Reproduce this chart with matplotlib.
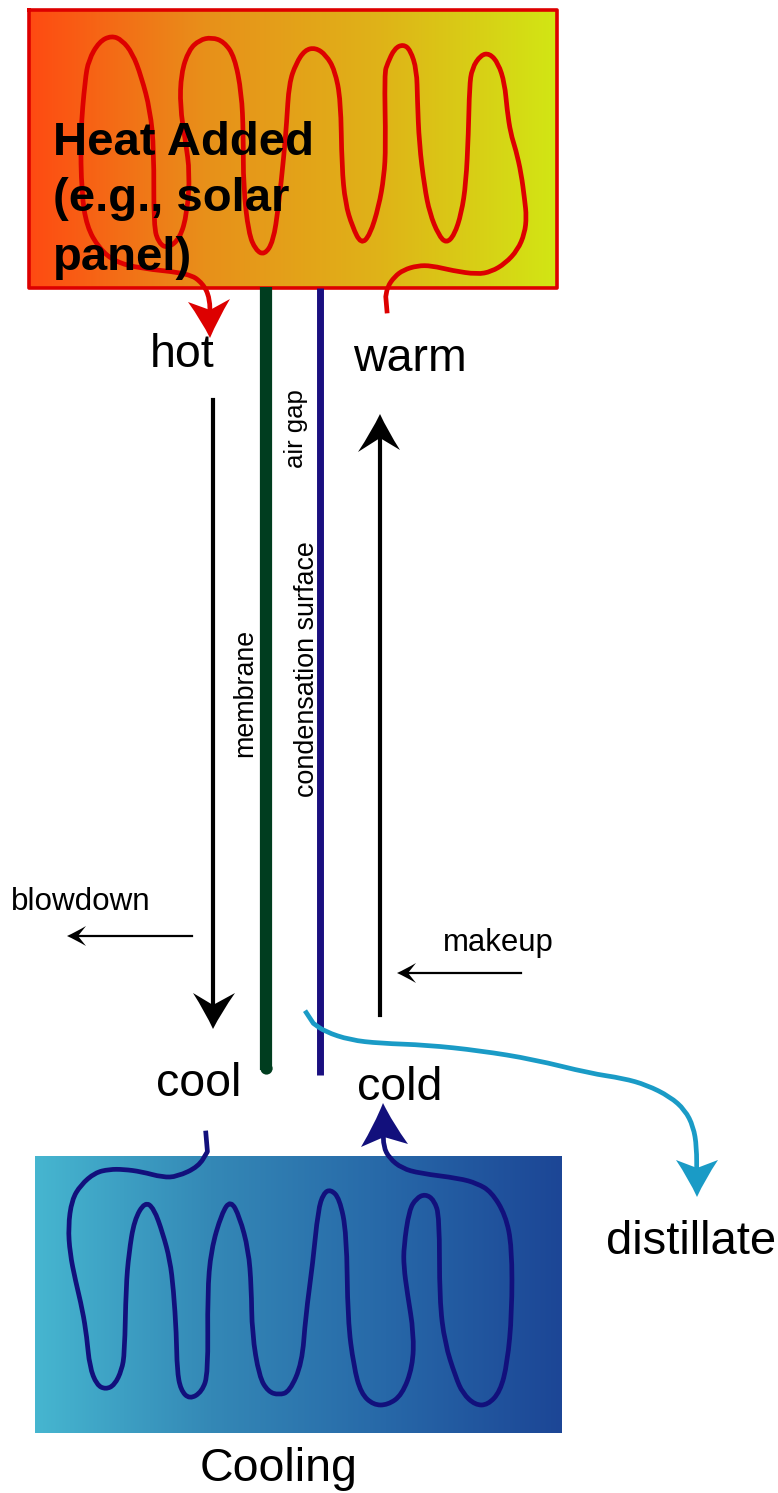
"""Solar membrane distillation schematic, traced on a pixel grid."""

import numpy as np
import matplotlib

matplotlib.use("Agg")
import matplotlib.pyplot as plt
from matplotlib.colors import LinearSegmentedColormap
from matplotlib.patches import PathPatch
from matplotlib.path import Path

W, H = 778, 1493
plt.rcParams["font.family"] = ["Liberation Sans", "DejaVu Sans"]

# Heater coil, traced on a zoomed crop of the top box.
HEAT_X = [1044, 1040, 1045, 1065, 1090, 1130, 1170, 1230, 1300, 1340, 1380, 1415, 1435, 1440, 1435, 1425, 1410, 1395,
          1385, 1378, 1360, 1335, 1310, 1285, 1278, 1275, 1268, 1255, 1235, 1212, 1190, 1165, 1150, 1135, 1130, 1128,
          1110, 1090, 1065, 1045, 1036, 1040, 1035, 1020, 995, 970, 945, 925, 915, 912, 895, 870, 840, 810, 785, 765,
          758, 750, 735, 720, 695, 670, 650, 635, 635, 630, 610, 580, 545, 510, 480, 458, 455, 470, 483, 475, 455, 420,
          395, 380, 381, 370, 345, 320, 290, 260, 225, 195, 185, 172, 175, 190, 225, 270, 340, 480, 520, 540, 540]
HEAT_Y = [940, 890, 860, 830, 810, 797, 797, 812, 823, 815, 790, 750, 700, 650, 600, 520, 450, 400,
          330, 250, 190, 160, 165, 205, 260, 400, 550, 640, 705, 730, 705, 640, 560, 430, 300, 210,
          150, 133, 145, 190, 220, 440, 530, 620, 705, 733, 680, 610, 500, 300, 210, 165, 143, 150, 190, 250,
          370, 470, 620, 725, 765, 750, 700, 560, 400, 280, 170, 125, 112, 120, 150, 220, 320, 420, 520, 640, 715, 745,
          730, 680, 450, 330, 230, 160, 120, 107, 125, 180, 240, 400, 580, 680, 745, 785, 805, 820, 850, 895, 960]

# Cooling coil, traced on a zoomed crop of the bottom box.
COOL_X = [520, 525, 500, 440, 400, 340, 290, 250, 210, 170, 145, 135, 140, 155, 175, 187, 195, 215, 240, 265, 285, 293,
          297, 305, 320, 350, 375, 400, 420, 430, 438, 440, 450, 475, 510, 527, 525, 535, 565, 590, 615, 640, 648, 650,
          670, 695, 725, 755, 790, 800, 820, 835, 850, 870, 895, 915, 918, 935, 955, 990, 1030, 1070, 1100, 1103, 1085,
          1075, 1075, 1090, 1110, 1135, 1160, 1175, 1175, 1190, 1220, 1240, 1275, 1310, 1345, 1365, 1378, 1378, 1360,
          1320, 1280, 1230, 1120, 1070, 1035, 1018, 1018]
COOL_Y = [32, 95, 140, 170, 172, 155, 148, 148, 158, 195, 240, 320, 400, 480, 570, 650, 740, 795, 808, 795, 750, 700,
          500, 400, 300, 245, 265, 340, 420, 510, 640, 750, 810, 838, 815, 760, 520, 390, 280, 240, 290, 390, 500, 640,
          770, 815, 825, 815, 730, 590, 430, 270, 220, 208, 235, 340, 600, 740, 820, 855, 855, 825, 740, 640, 520,
          440, 380, 270, 235, 222, 240, 290, 540, 670, 770, 820, 855, 855, 815, 730, 580, 380, 285,
          215, 190, 175, 160, 145, 115, 80, 30]

DIST_X = [75, 100, 135, 210, 300, 440, 600, 760, 930, 1030, 1100, 1170, 1215, 1240, 1250, 1250]
DIST_Y = [62, 100, 125, 150, 160, 165, 182, 208, 250, 265, 285, 320, 360, 410, 470, 560]

HEAT_COLORS = ["#ff4a12", "#e8901a", "#dfb318", "#d2e614"]
COOL_COLORS = ["#46b6d0", "#3488b6", "#2768a8", "#1c4696"]

RED = "#dd0000"
NAVY = "#12107c"
TEAL = "#1a9bc6"


def gradient(ax, colors, box):
    cmap = LinearSegmentedColormap.from_list("g", colors)
    ax.imshow(np.linspace(0, 1, 256)[None, :], cmap=cmap, extent=box, aspect="auto", zorder=1)


def head(ax, tip, left, notch, right, color, z=5):
    # Barbs sweep back, so the outer edges bow in towards the shaft.
    tip, left, notch, right = map(np.array, (tip, left, notch, right))
    c1 = (tip + left) / 2 + (notch - left) * 0.12
    c2 = (tip + right) / 2 + (notch - right) * 0.12
    verts = [tip, c1, left, notch, right, c2, tip]
    codes = [Path.MOVETO, Path.CURVE3, Path.CURVE3, Path.LINETO, Path.LINETO, Path.CURVE3, Path.CURVE3]
    ax.add_patch(PathPatch(Path(verts, codes), fc=color, lw=0, zorder=z))


def coil(ax, xs, ys, x0, kx, y0, color, lw, z=3):
    pts = np.column_stack([x0 + np.array(xs) * kx, y0 + np.array(ys) / 3])
    # Traced points act as control points of quadratic segments, to keep the pen stroke smooth.
    verts = [pts[0], pts[1]]
    codes = [Path.MOVETO, Path.LINETO]
    for a, b in zip(pts[1:-1], pts[2:]):
        verts += [a, (a + b) / 2]
        codes += [Path.CURVE3, Path.CURVE3]
    verts.append(pts[-1])
    codes.append(Path.LINETO)
    ax.add_patch(PathPatch(Path(verts, codes), fc="none", ec=color, lw=lw, capstyle="butt",
                           joinstyle="round", zorder=z))


fig = plt.figure(figsize=(W / 100, H / 100), dpi=100)
ax = fig.add_axes([0, 0, 1, 1])

# Boxes
gradient(ax, HEAT_COLORS, (29, 557, 288, 10))
ax.plot([29, 557, 557, 29, 29], [10, 10, 288, 288, 10], color=RED, lw=2.6, zorder=2)
gradient(ax, COOL_COLORS, (35, 562, 1433, 1156))

# Coils
coil(ax, HEAT_X, HEAT_Y, 20, 0.3517, 0, RED, 3.4)
head(ax, (210, 338), (188, 302), (210, 310), (230, 299), RED)
coil(ax, COOL_X, COOL_Y, 20, 0.357, 1120, NAVY, 3.4)
head(ax, (383, 1103), (361, 1147), (384, 1137), (408, 1144), NAVY)
coil(ax, DIST_X, DIST_Y, 280, 1 / 3, 990, TEAL, 3.4)
head(ax, (697, 1197), (676, 1160), (697, 1168), (718, 1160), TEAL)

# Membrane and condensation surface
ax.plot([266, 266], [287, 1070], color="#003d1f", lw=8.8, solid_capstyle="butt", zorder=2)
ax.plot([266], [1068], "o", color="#003d1f", ms=8.8, mew=0, zorder=2)
ax.plot([320, 320], [288, 1075], color="#1a0f80", lw=5, solid_capstyle="butt", zorder=2)

# Flow arrows
ax.plot([213, 213], [400, 1010], color="black", lw=3, zorder=3)
head(ax, (213, 1029), (193, 993), (213, 1005), (235, 993), "black")
ax.plot([380, 380], [1015, 435], color="black", lw=3, zorder=3)
head(ax, (380, 414), (358, 452), (380, 438), (400, 450), "black")
ax.plot([192, 75], [936, 936], color="black", lw=1.6, zorder=3)
head(ax, (67, 936), (86, 926), (78, 936), (86, 946), "black")
ax.plot([521, 405], [973, 973], color="black", lw=1.6, zorder=3)
head(ax, (397, 973), (416, 963), (408, 973), (416, 983), "black")

# Text
for s, x, y in [("hot", 150, 367), ("warm", 353, 371), ("cool", 156, 1096), ("cold", 357, 1100),
                ("Cooling", 200, 1481)]:
    ax.text(x, y, s, fontsize=33.5, va="baseline", ha="left", zorder=6)
ax.text(606, 1254, "distillate", fontsize=34, va="baseline", ha="left", zorder=6)
for s, y in [("Heat Added", 155), ("(e.g., solar", 211), ("panel)", 270)]:
    ax.text(53, y, s, fontsize=34, fontweight="bold", va="baseline", ha="left", zorder=6)
ax.text(11, 910, "blowdown", fontsize=22.6, va="baseline", ha="left", zorder=6)
ax.text(443, 951, "makeup", fontsize=22.4, va="baseline", ha="left", zorder=6)
ax.text(245, 757, "membrane", fontsize=19.3, rotation=90, va="bottom", ha="center", zorder=6)
ax.text(296, 468, "air gap", fontsize=18.5, rotation=90, va="bottom", ha="center", zorder=6)
ax.text(307, 797, "condensation surface", fontsize=19.4, rotation=90, va="bottom", ha="center", zorder=6)

ax.set_xlim(0, W)
ax.set_ylim(H, 0)
ax.axis("off")
fig.savefig("out.png", dpi=100)
